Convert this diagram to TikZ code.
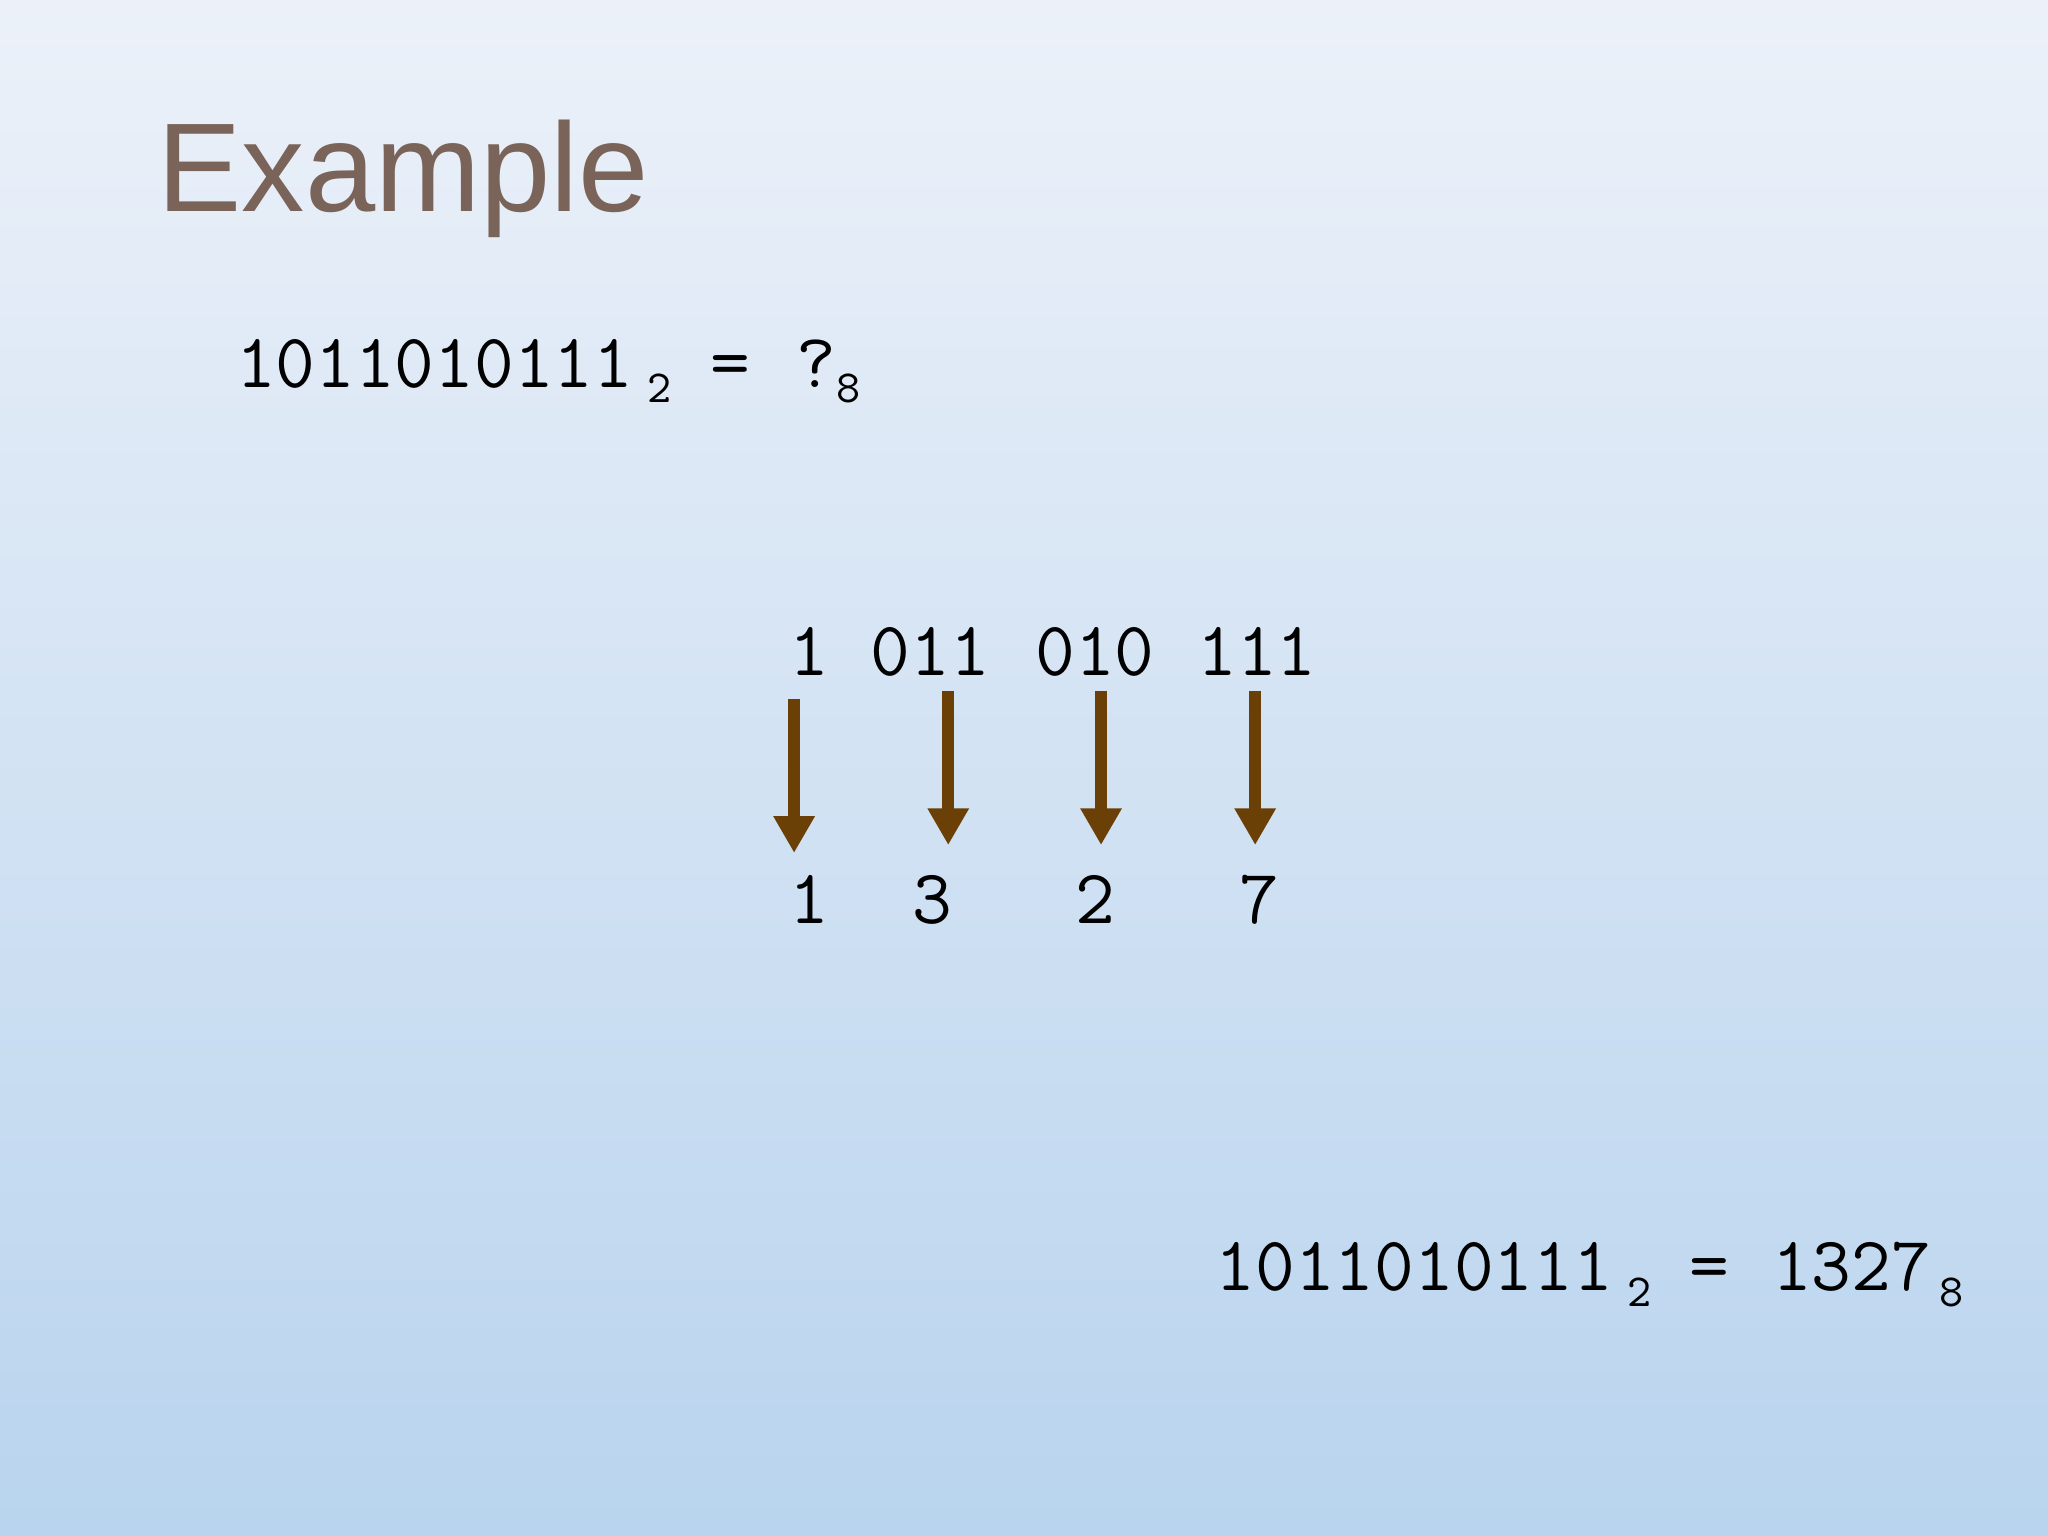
\documentclass[tikz,border=0pt]{standalone}
\usepackage{fontspec}
\setmainfont{Liberation Sans}
\usetikzlibrary{arrows.meta}
\definecolor{bgtop}{HTML}{ECF1F9}
\definecolor{bgbot}{HTML}{B9D4EE}
\definecolor{titlec}{HTML}{7A6358}
\definecolor{arrc}{HTML}{6B4006}
\begin{document}
\begin{tikzpicture}[x=0.01cm,y=-0.01cm,
  mono/.style={anchor=base west,inner sep=0pt,font=\ttfamily\fontsize{16.8}{19}\selectfont},
  sub/.style={anchor=base west,inner sep=0pt,font=\ttfamily\fontsize{10}{11}\selectfont},
  conv/.style={draw=arrc,line width=2.6pt,-{Triangle[width=8.5pt,length=8pt]}}]
\shade[top color=bgtop,bottom color=bgbot] (0,0) rectangle (1568,1176);
\useasboundingbox (0,0) rectangle (1568,1176);
\node[anchor=base west,inner sep=0pt,text=titlec,font=\fontsize{27.5}{30}\selectfont] (title) at (120,162) {Example};
% first equation
\node[mono] (q1) at (180,297) {1011010111};
\node[sub] (q2) at (495,308) {2};
\node[mono] (qe) at (543,297) {=};
\node[mono] (qq) at (609,297) {?};
\node[sub] (q8) at (640,308) {8};
% groups
\node[mono] (g1) at (604,517) {1};
\node[mono] (g2) at (666,517) {011};
\node[mono] (g3) at (792,517) {010};
\node[mono] (g4) at (916,517) {111};
\node[mono] (r1) at (604,707) {1};
\node[mono] (r2) at (698,707) {3};
\node[mono] (r3) at (823,707) {2};
\node[mono] (r4) at (948,707) {7};
\coordinate (a1s) at (608,535); \coordinate (a1e) at (608,653);
\coordinate (a2s) at (726,529); \coordinate (a2e) at (726,647);
\coordinate (a3s) at (843,529); \coordinate (a3e) at (843,647);
\coordinate (a4s) at (961,529); \coordinate (a4e) at (961,647);
\draw[conv] (a1s) -- (a1e);
\draw[conv] (a2s) -- (a2e);
\draw[conv] (a3s) -- (a3e);
\draw[conv] (a4s) -- (a4e);
% result
\node[mono] (b1) at (930,988) {1011010111};
\node[sub] (b2) at (1245,1000) {2};
\node[mono] (be) at (1293,988) {=};
\node[mono] (b3) at (1356,988) {1327};
\node[sub] (b8) at (1484,1000) {8};
\end{tikzpicture}
\end{document}
